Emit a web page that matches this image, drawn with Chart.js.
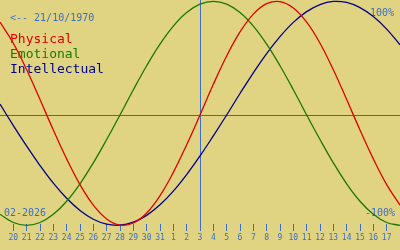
<!DOCTYPE html>
<html>
<head>
<meta charset="utf-8">
<script src="https://cdn.jsdelivr.net/npm/chart.js@4/dist/chart.umd.min.js"></script>
<style>
  html, body { margin: 0; padding: 0; background: #e0d382; }
  canvas { display: block; }
</style>
</head>
<body>
<canvas id="c" width="400" height="250"></canvas>
<script>
// Days shown (19 Jan 2026 .. 18 Feb 2026); today = 3 Feb (index 15)
const dayLabels = [19,20,21,22,23,24,25,26,27,28,29,30,31,1,2,3,4,5,6,7,8,9,10,11,12,13,14,15,16,17,18];
const todayIndex = 15;

// Values (fraction of 100%)
const physical = [0.829,0.641,0.404,0.138,-0.134,-0.392,-0.622,-0.805,-0.928,-0.983,-0.964,-0.875,-0.720,-0.512,-0.266,
  0.000,0.274,0.527,0.742,0.901,0.994,1.013,0.956,0.829,0.641,0.404,0.138,-0.134,-0.392,-0.622,-0.805];
const emotional = [-0.887,-0.960,-0.985,-0.960,-0.887,-0.770,-0.614,-0.427,-0.219,0.000,0.226,0.440,0.633,0.794,0.915,
  0.990,1.015,0.990,0.915,0.794,0.633,0.440,0.226,0.000,-0.219,-0.427,-0.614,-0.770,-0.887,-0.960,-0.985];
const intellectual = [0.097,-0.094,-0.277,-0.451,-0.609,-0.744,-0.853,-0.931,-0.975,-0.984,-0.957,-0.896,-0.802,-0.680,-0.532,
  -0.366,-0.186,0.000,0.192,0.377,0.549,0.700,0.827,0.923,0.986,1.014,1.005,0.959,0.879,0.767,0.627];

const seriesNames = ['Physical', 'Emotional', 'Intellectual'];
const seriesColors = ['#e00000', '#1c7800', '#000088'];
const birthText = '<-- 21/10/1970';
const monthText = '02-2026';
const topText = '100%';
const bottomText = '-100%';

const blue = '#3b6fc6';
const lineBlue = '#4069a8';

const overlay = {
  id: 'overlay',
  beforeDatasetsDraw(chart) {
    const ctx = chart.ctx;
    const xs = chart.scales.x, ys = chart.scales.y;
    const area = chart.chartArea;
    ctx.save();
    // zero line
    const y0 = Math.round(ys.getPixelForValue(0)) + 0.5;
    ctx.strokeStyle = lineBlue;
    ctx.lineWidth = 1;
    ctx.beginPath();
    ctx.moveTo(area.left, y0); ctx.lineTo(area.right, y0);
    ctx.stroke();
    // today line
    const xt = Math.round(xs.getPixelForValue(todayIndex)) + 0.5;
    ctx.strokeStyle = blue;
    ctx.beginPath();
    ctx.moveTo(xt, 0); ctx.lineTo(xt, area.bottom + 7);
    ctx.stroke();

    ctx.textBaseline = 'alphabetic';
    ctx.font = '10px "DejaVu Sans Mono"';
    ctx.fillStyle = blue;
    ctx.textAlign = 'left';
    ctx.fillText(birthText, 10, 21);
    ctx.fillText(monthText, 4, 216);
    ctx.textAlign = 'right';
    ctx.fillText(topText, 394, 16);
    ctx.fillText(bottomText, 395, 216);

    ctx.textAlign = 'left';
    ctx.font = '13px "DejaVu Sans Mono"';
    seriesNames.forEach((n, i) => {
      ctx.fillStyle = seriesColors[i];
      ctx.fillText(n, 10, 43 + i * 15);
    });
    ctx.restore();
  }
};

new Chart(document.getElementById('c'), {
  type: 'line',
  data: {
    labels: dayLabels,
    datasets: [
      { label: seriesNames[0], data: physical, borderColor: seriesColors[0] },
      { label: seriesNames[1], data: emotional, borderColor: seriesColors[1] },
      { label: seriesNames[2], data: intellectual, borderColor: seriesColors[2] }
    ].map(d => Object.assign(d, { borderWidth: 1.3, pointRadius: 0, tension: 0.4, fill: false, clip: false }))
  },
  options: {
    responsive: false,
    animation: false,
    events: [],
    layout: { padding: { left: 0, right: 0, top: 0, bottom: 5.4 } },
    plugins: { legend: { display: false }, tooltip: { enabled: false } },
    scales: {
      x: {
        type: 'category',
        offset: false,
        border: { display: false },
        grid: { drawOnChartArea: false, drawTicks: true, tickLength: 7, color: blue, lineWidth: 1 },
        ticks: {
          autoSkip: false, maxRotation: 0, minRotation: 0, padding: 2,
          color: blue, font: { family: 'DejaVu Sans Mono', size: 8 },
          callback: function(v, i) { return (i === 0 || i === dayLabels.length - 1) ? null : String(dayLabels[i]); }
        }
      },
      y: {
        display: false,
        min: -109 / 112,
        max: 115 / 112
      }
    }
  },
  plugins: [overlay]
});
</script>
</body>
</html>
